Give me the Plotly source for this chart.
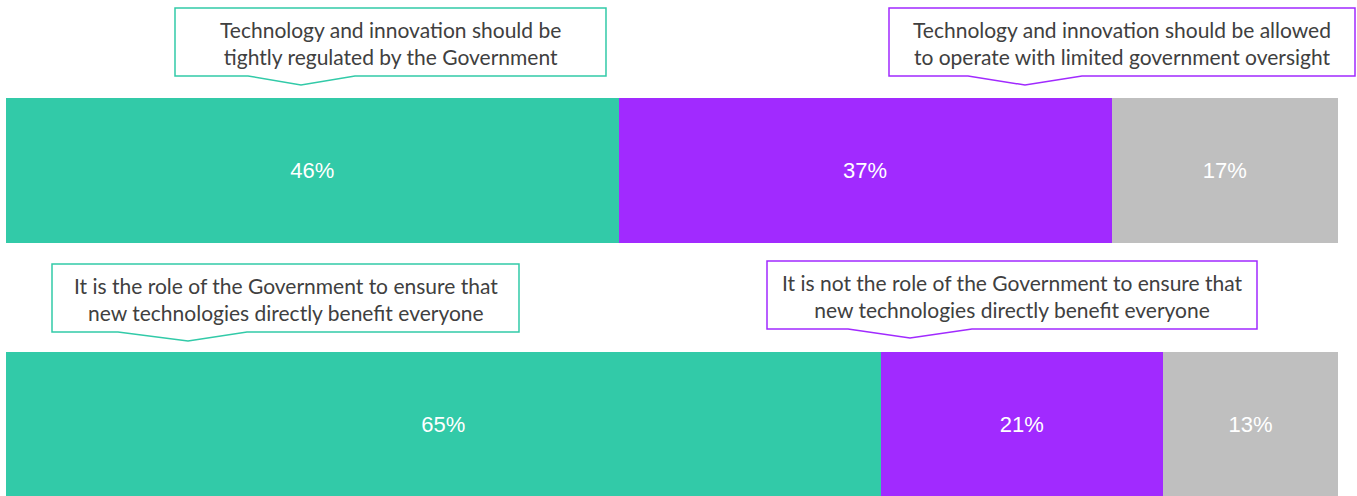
import plotly.graph_objects as go

# Survey results: share of respondents per statement pair
questions = ["Regulation", "Benefit"]
agree = [46, 65]
disagree = [37, 21]
neither = [17, 13]

agree_statements = [
    "Technology and innovation should be<br>tightly regulated by the Government",
    "It is the role of the Government to ensure that<br>new technologies directly benefit everyone",
]
disagree_statements = [
    "Technology and innovation should be allowed<br>to operate with limited government oversight",
    "It is not the role of the Government to ensure that<br>new technologies directly benefit everyone",
]

W, H = 1357, 496
GREEN = "#32CAA8"
PURPLE = "#A12AFF"
GREY = "#BFBFBF"
TEXT = "#404040"

fig = go.Figure()
for vals, color in [(agree, GREEN), (disagree, PURPLE), (neither, GREY)]:
    fig.add_trace(go.Bar(
        y=questions, x=vals, orientation="h",
        marker=dict(color=color, line=dict(width=0)),
        text=[f"{v}%" for v in vals], texttemplate="%{text}",
        textposition="inside", insidetextanchor="middle",
        textfont=dict(family="Liberation Sans, Arial", size=22, color="white"),
        width=0.57, showlegend=False, hoverinfo="skip",
    ))


def px(x, y):
    return x / W, 1 - y / H


# Callout boxes (pixel geometry): x0, x1, y0, y1, pointer left, pointer right, tip x, tip y
callouts = [
    (agree_statements[0], GREEN, (175, 606, 8, 76, 248, 355, 301, 85)),
    (disagree_statements[0], PURPLE, (889, 1355, 8, 76, 968, 1082, 1025, 85)),
    (agree_statements[1], GREEN, (52, 519, 264, 332, 118, 247, 188, 341)),
    (disagree_statements[1], PURPLE, (767, 1257, 261, 329, 848, 972, 910, 338)),
]

for text, color, (x0, x1, y0, y1, pl, pr, tx, ty) in callouts:
    pts = [(x0, y0), (x1, y0), (x1, y1), (pr, y1), (tx, ty), (pl, y1), (x0, y1)]
    path = "M " + " L ".join(f"{px(a, b)[0]:.5f},{px(a, b)[1]:.5f}" for a, b in pts) + " Z"
    fig.add_shape(type="path", path=path, xref="paper", yref="paper",
                  fillcolor="white", line=dict(color=color, width=1.5), layer="above")
    cx, cy = px((x0 + x1) / 2, (y0 + y1) / 2 + 1)
    fig.add_annotation(x=cx, y=cy, xref="paper", yref="paper", text=text,
                       showarrow=False, xanchor="center", yanchor="middle",
                       font=dict(family="Lato, Open Sans", size=21, color=TEXT))

# Category 0 centred at 170.5 px, category 1 at 424.5 px
step = 254.0
fig.update_layout(
    width=W, height=H,
    margin=dict(l=0, r=0, t=0, b=0),
    paper_bgcolor="white", plot_bgcolor="white",
    barmode="stack", barnorm="percent",
    xaxis=dict(domain=[6 / W, 1338 / W], range=[0, 100], visible=False, fixedrange=True),
    yaxis=dict(range=[(H - 170.5) / step, -170.5 / step], visible=False,
               categoryorder="array", categoryarray=questions, fixedrange=True),
)

fig.write_html("out.html")
